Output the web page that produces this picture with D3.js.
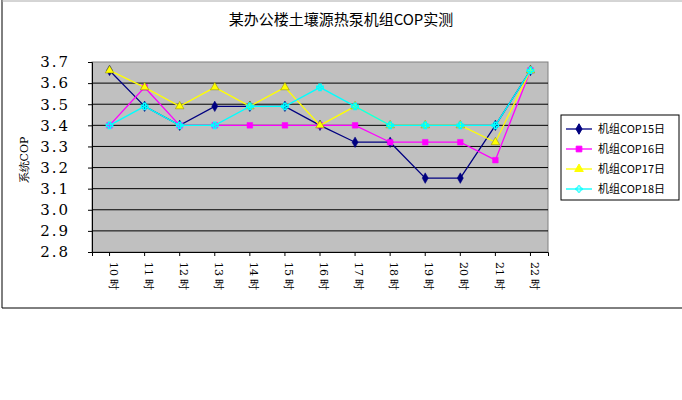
<!DOCTYPE html><html><head><meta charset="utf-8"><script src="https://cdn.jsdelivr.net/npm/d3@7"></script>
<style>body{margin:0;background:#fff}</style></head><body><svg id="c" width="682" height="400"></svg><script>
const categories=["10 时","11 时","12 时","13 时","14 时","15 时","16 时","17 时","18 时","19 时","20 时","21 时","22 时"];
const s15=[3.66,3.49,3.40,3.49,3.49,3.49,3.40,3.32,3.32,3.15,3.15,3.40,3.66];
const s16=[3.40,3.58,3.40,3.40,3.40,3.40,3.40,3.40,3.32,3.32,3.32,3.235,3.66];
const s17=[3.66,3.58,3.49,3.58,3.49,3.58,3.40,3.49,3.40,3.40,3.40,3.32,3.66];
const s18=[3.40,3.49,3.40,3.40,3.49,3.49,3.58,3.49,3.40,3.40,3.40,3.40,3.66];
const yTicks=[2.8,2.9,3.0,3.1,3.2,3.3,3.4,3.5,3.6,3.7];
const seriesNames=["机组COP15日","机组COP16日","机组COP17日","机组COP18日"];
const series=[s15,s16,s17,s18];
const colors=["#000080","#ff00ff","#ffff00","#00ffff"];
const shapes=[d3.symbolDiamond,d3.symbolSquare,d3.symbolTriangle,d3.symbolCross];
const svg=d3.select("#c");const F="'DejaVu Serif','Liberation Serif',serif";
svg.append("line").attr("x1",2).attr("x2",2).attr("y1",0).attr("y2",308).attr("stroke","#000");
svg.append("line").attr("x1",2).attr("x2",682).attr("y1",308).attr("y2",308).attr("stroke","#000");
svg.append("line").attr("x1",2).attr("x2",682).attr("y1",1).attr("y2",1).attr("stroke","#aaa");
svg.append("text").attr("x",341).attr("y",25).attr("text-anchor","middle").attr("font-family","'Noto Sans CJK SC',serif").attr("font-size",15).text("某办公楼土壤源热泵机组COP实测");
const x=d3.scaleBand().domain(categories).range([92,548]);
const y=d3.scaleLinear().domain([2.8,3.7]).range([252,62]);
svg.append("rect").attr("x",92).attr("y",62).attr("width",456).attr("height",190).attr("fill","#c0c0c0").attr("stroke","#808080");
svg.append("g").selectAll("line").data(yTicks.slice(1,-1)).join("line").attr("x1",92).attr("x2",548).attr("y1",d=>y(d)).attr("y2",d=>y(d)).attr("stroke","#000");
const ya=svg.append("g").attr("transform","translate(92,0)").call(d3.axisLeft(y).tickValues(yTicks).tickFormat(d3.format(".1f")).tickSize(4));
ya.selectAll("text").attr("font-family",F).attr("font-size",15).attr("x",-22).attr("letter-spacing",2);
ya.select(".domain").attr("stroke","#000");
const xa=svg.append("g").attr("transform","translate(0,252)").call(d3.axisBottom(x).tickSize(4));
xa.selectAll("text").attr("font-family",F).attr("font-size",11).attr("transform","rotate(90)").attr("text-anchor","start").attr("x",10).attr("y",-4).attr("dy","0.35em");
svg.append("text").attr("transform","translate(28,160) rotate(-90)").attr("text-anchor","middle").attr("font-family",F).attr("font-size",11).text("系统COP");
const cx=d=>x(d)+x.bandwidth()/2;
series.forEach((s,i)=>{
 svg.append("path").datum(s).attr("fill","none").attr("stroke",colors[i]).attr("stroke-width",1.3)
  .attr("d",d3.line().x((v,j)=>cx(categories[j])).y(v=>y(v)));
 svg.append("g").selectAll("path").data(s).join("path").attr("transform",(v,j)=>`translate(${cx(categories[j])},${y(v)})`)
  .attr("d",d3.symbol(shapes[i],i==3?22:32)).attr("fill",i==3?"none":colors[i]).attr("stroke",i==3?colors[i]:(i==2?"#888800":colors[i])).attr("stroke-width",i==3?1.5:0.5);
});
const lg=svg.append("g");
lg.append("rect").attr("x",561).attr("y",115).attr("width",118).attr("height",85).attr("fill","#fff").attr("stroke","#000");
seriesNames.forEach((n,i)=>{const yy=129+i*20;
 lg.append("line").attr("x1",566).attr("x2",592).attr("y1",yy).attr("y2",yy).attr("stroke",colors[i]).attr("stroke-width",1.3);
 lg.append("path").attr("transform",`translate(579,${yy})`).attr("d",d3.symbol(shapes[i],i==3?22:32)).attr("fill",i==3?"none":colors[i]).attr("stroke",colors[i]);
 lg.append("text").attr("x",598).attr("y",yy+4).attr("font-family","'Noto Sans CJK SC',serif").attr("font-size",11).text(n);});
</script></body></html>
